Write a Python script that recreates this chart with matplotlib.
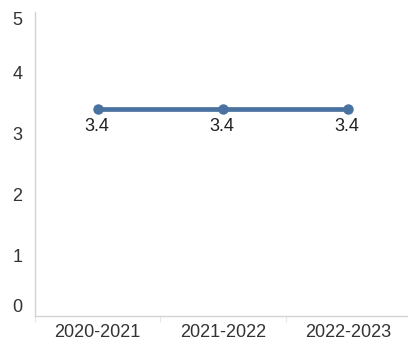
import matplotlib
matplotlib.use("Agg")
import matplotlib.pyplot as plt
from matplotlib.ticker import FixedLocator

categories = ["2020-2021", "2021-2022", "2022-2023"]
values = [3.4, 3.4, 3.4]
y_ticks = [0, 1, 2, 3, 4, 5]

plt.rcParams['font.family'] = ['Liberation Sans', 'DejaVu Sans']
FS = 13
W, H = 408, 343
fig = plt.figure(figsize=(W / 100, H / 100), dpi=100)
ax = fig.add_axes([35 / W, 27 / H, (410.8 - 35) / W, (316 - 12) / H])

x = list(range(len(categories)))
line_color = "#4a72a0"
ax.plot(x, values, color=line_color, lw=3.4, marker="o", ms=6.5, solid_capstyle="round", zorder=3)
for xi, v in zip(x, values):
    ax.annotate(f"{v:.1f}", (xi, v), xytext=(-1, -17), textcoords="offset pixels",
                ha="center", va="center", fontsize=FS, color="#222222")

ax.set_xlim(-0.5, len(categories) - 0.5)
ax.set_ylim(0, 5)
ax.set_xticks(x)
ax.set_xticklabels(categories)
ax.xaxis.set_minor_locator(FixedLocator([i + 0.5 for i in range(len(categories) - 1)] + [-0.5]))
ax.set_yticks(y_ticks)
ax.set_yticklabels([str(t) for t in y_ticks])

for s in ["top", "right"]:
    ax.spines[s].set_visible(False)
for s in ["left", "bottom"]:
    ax.spines[s].set_color("#d4d4d4")
    ax.spines[s].set_linewidth(1.0)

ax.tick_params(axis="x", which="major", length=0, pad=5.5, labelsize=FS, labelcolor="#333333")
ax.tick_params(axis="x", which="minor", length=4.5, width=0.8, color="#e6e6e6")
ax.tick_params(axis="y", which="major", length=0, pad=9, labelsize=FS, labelcolor="#333333")

labels = ax.get_yticklabels()
labels[0].set_va("bottom")
labels[-1].set_va("top")

fig.savefig("out.png", dpi=100)
